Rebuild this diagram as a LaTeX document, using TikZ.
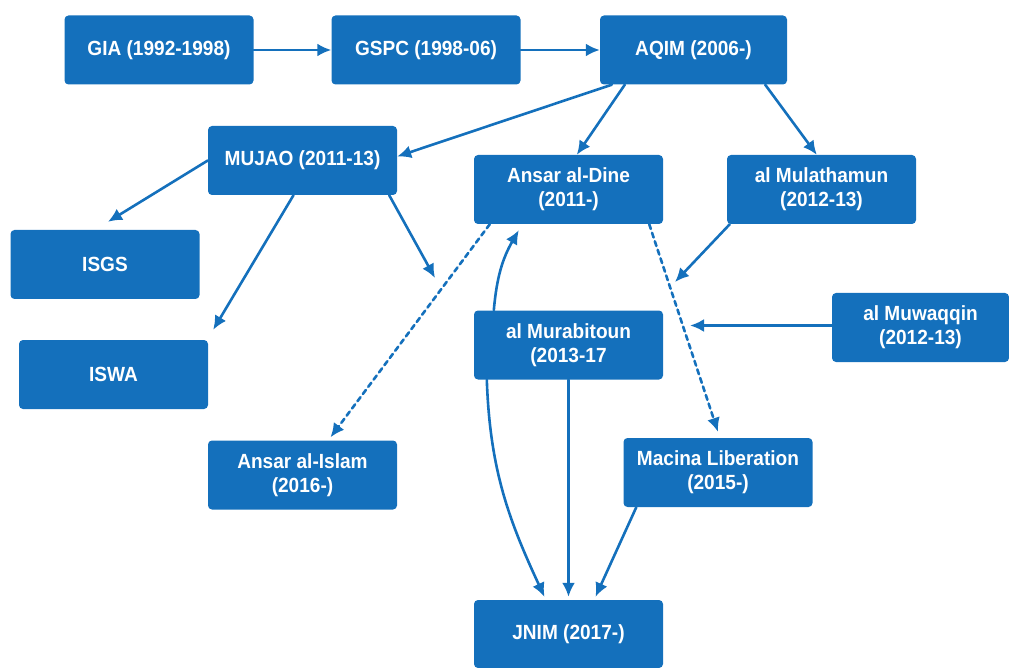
\documentclass[tikz,border=0pt]{standalone}
\usepackage{fontspec}
\setmainfont{Liberation Sans}[FakeStretch=0.93]
\usetikzlibrary{arrows.meta}
\definecolor{groupblue}{RGB}{20,112,188}
\begin{document}
\begin{tikzpicture}[x=1pt, y=-1pt, line cap=round, line join=round,
		group/.style={rectangle, rounded corners=4pt, fill=groupblue, text=white, align=center, inner sep=0pt, minimum width=189pt, minimum height=69pt, font=\bfseries\fontsize{20.5}{24}\selectfont},
		link/.style={draw=groupblue, line width=2.6pt, -{Latex[length=14pt, width=13pt]}},
		maybe/.style={link, dash pattern=on 5pt off 4pt}]
	\useasboundingbox (0, 0) rectangle (1009, 668);
	% First layer
	\node [group] (gia) at (159, 50) {GIA (1992-1998)};
	\node [group] (gspc) at (426, 50) {GSPC (1998-06)};
	\node [group, minimum width=187pt] (aqim) at (693.5, 50) {AQIM (2006-)};
	% Second layer
	\node [group] (mujao) at (302.5, 160.5) {MUJAO (2011-13)};
	\node [group] (ansar-dine) at (568.5, 189.5) {Ansar al-Dine\\(2011-)};
	\node [group] (mulathamun) at (821.5, 189.5) {al Mulathamun\\(2012-13)};
	% Third layer
	\node [group] (isgs) at (105, 264.5) {ISGS};
	\node [group] (iswa) at (113.5, 374.5) {ISWA};
	\node [group] (murabitoun) at (568.5, 345) {al Murabitoun\\(2013-17};
	\node [group, minimum width=177pt] (muwaqqin) at (920.5, 327.5) {al Muwaqqin\\(2012-13)};
	% Fourth layer
	\node [group] (ansar-islam) at (302.5, 475) {Ansar al-Islam\\(2016-)};
	\node [group] (macina) at (718, 472.5) {Macina Liberation\\(2015-)};
	\node [group, minimum height=68pt] (jnim) at (568.5, 634) {JNIM (2017-)};
	% Loose ends
	\coordinate (mujao-end) at (435, 278);
	\coordinate (mulathamun-end) at (675, 282);
	\coordinate (muwaqqin-end) at (690, 325.5);
	% First layer arrows
	\foreach \a/\b in {gia/gspc, gspc/aqim}
		\draw [link] (\a) -- (\b);
	\draw [link] ([xshift=12pt]aqim.south west) -- ([yshift=4pt]mujao.east);
	\draw [link] ([xshift=25pt]aqim.south west) -- ([xshift=103pt]ansar-dine.north west);
	\draw [link] ([xshift=-22pt]aqim.south east) -- ([xshift=90pt]mulathamun.north west);
	% Second layer arrows
	\draw [link] (mujao.west) -- ([shift={(3pt, 8pt)}]isgs.north);
	\draw [link] ([xshift=-9pt]mujao.south) -- ([shift={(5pt, 10pt)}]iswa.north east);
	\draw [link] ([xshift=-8pt]mujao.south east) -- (mujao-end);
	\draw [maybe] ([xshift=16pt]ansar-dine.south west) -- ([shift={(28pt, 3pt)}]ansar-islam.north);
	\draw [maybe] ([xshift=-14pt]ansar-dine.south east) -- ([yshift=6pt]macina.north);
	\draw [link] ([xshift=3pt]mulathamun.south west) -- (mulathamun-end);
	\draw [link] ([yshift=2pt]muwaqqin.west) -- (muwaqqin-end);
	% Third layer arrows
	\draw [link] ([xshift=20pt]murabitoun.north west) to [out=85, in=240] ([shift={(45pt, -6pt)}]ansar-dine.south west);
	\draw [link] ([xshift=13pt]murabitoun.south west) to [out=-88, in=115] ([shift={(-24pt, 3pt)}]jnim.north);
	\draw [link] (murabitoun.south) -- ([yshift=3pt]jnim.north);
	\draw [link] ([xshift=13pt]macina.south west) -- ([shift={(27pt, 3pt)}]jnim.north);
\end{tikzpicture}
\end{document}
